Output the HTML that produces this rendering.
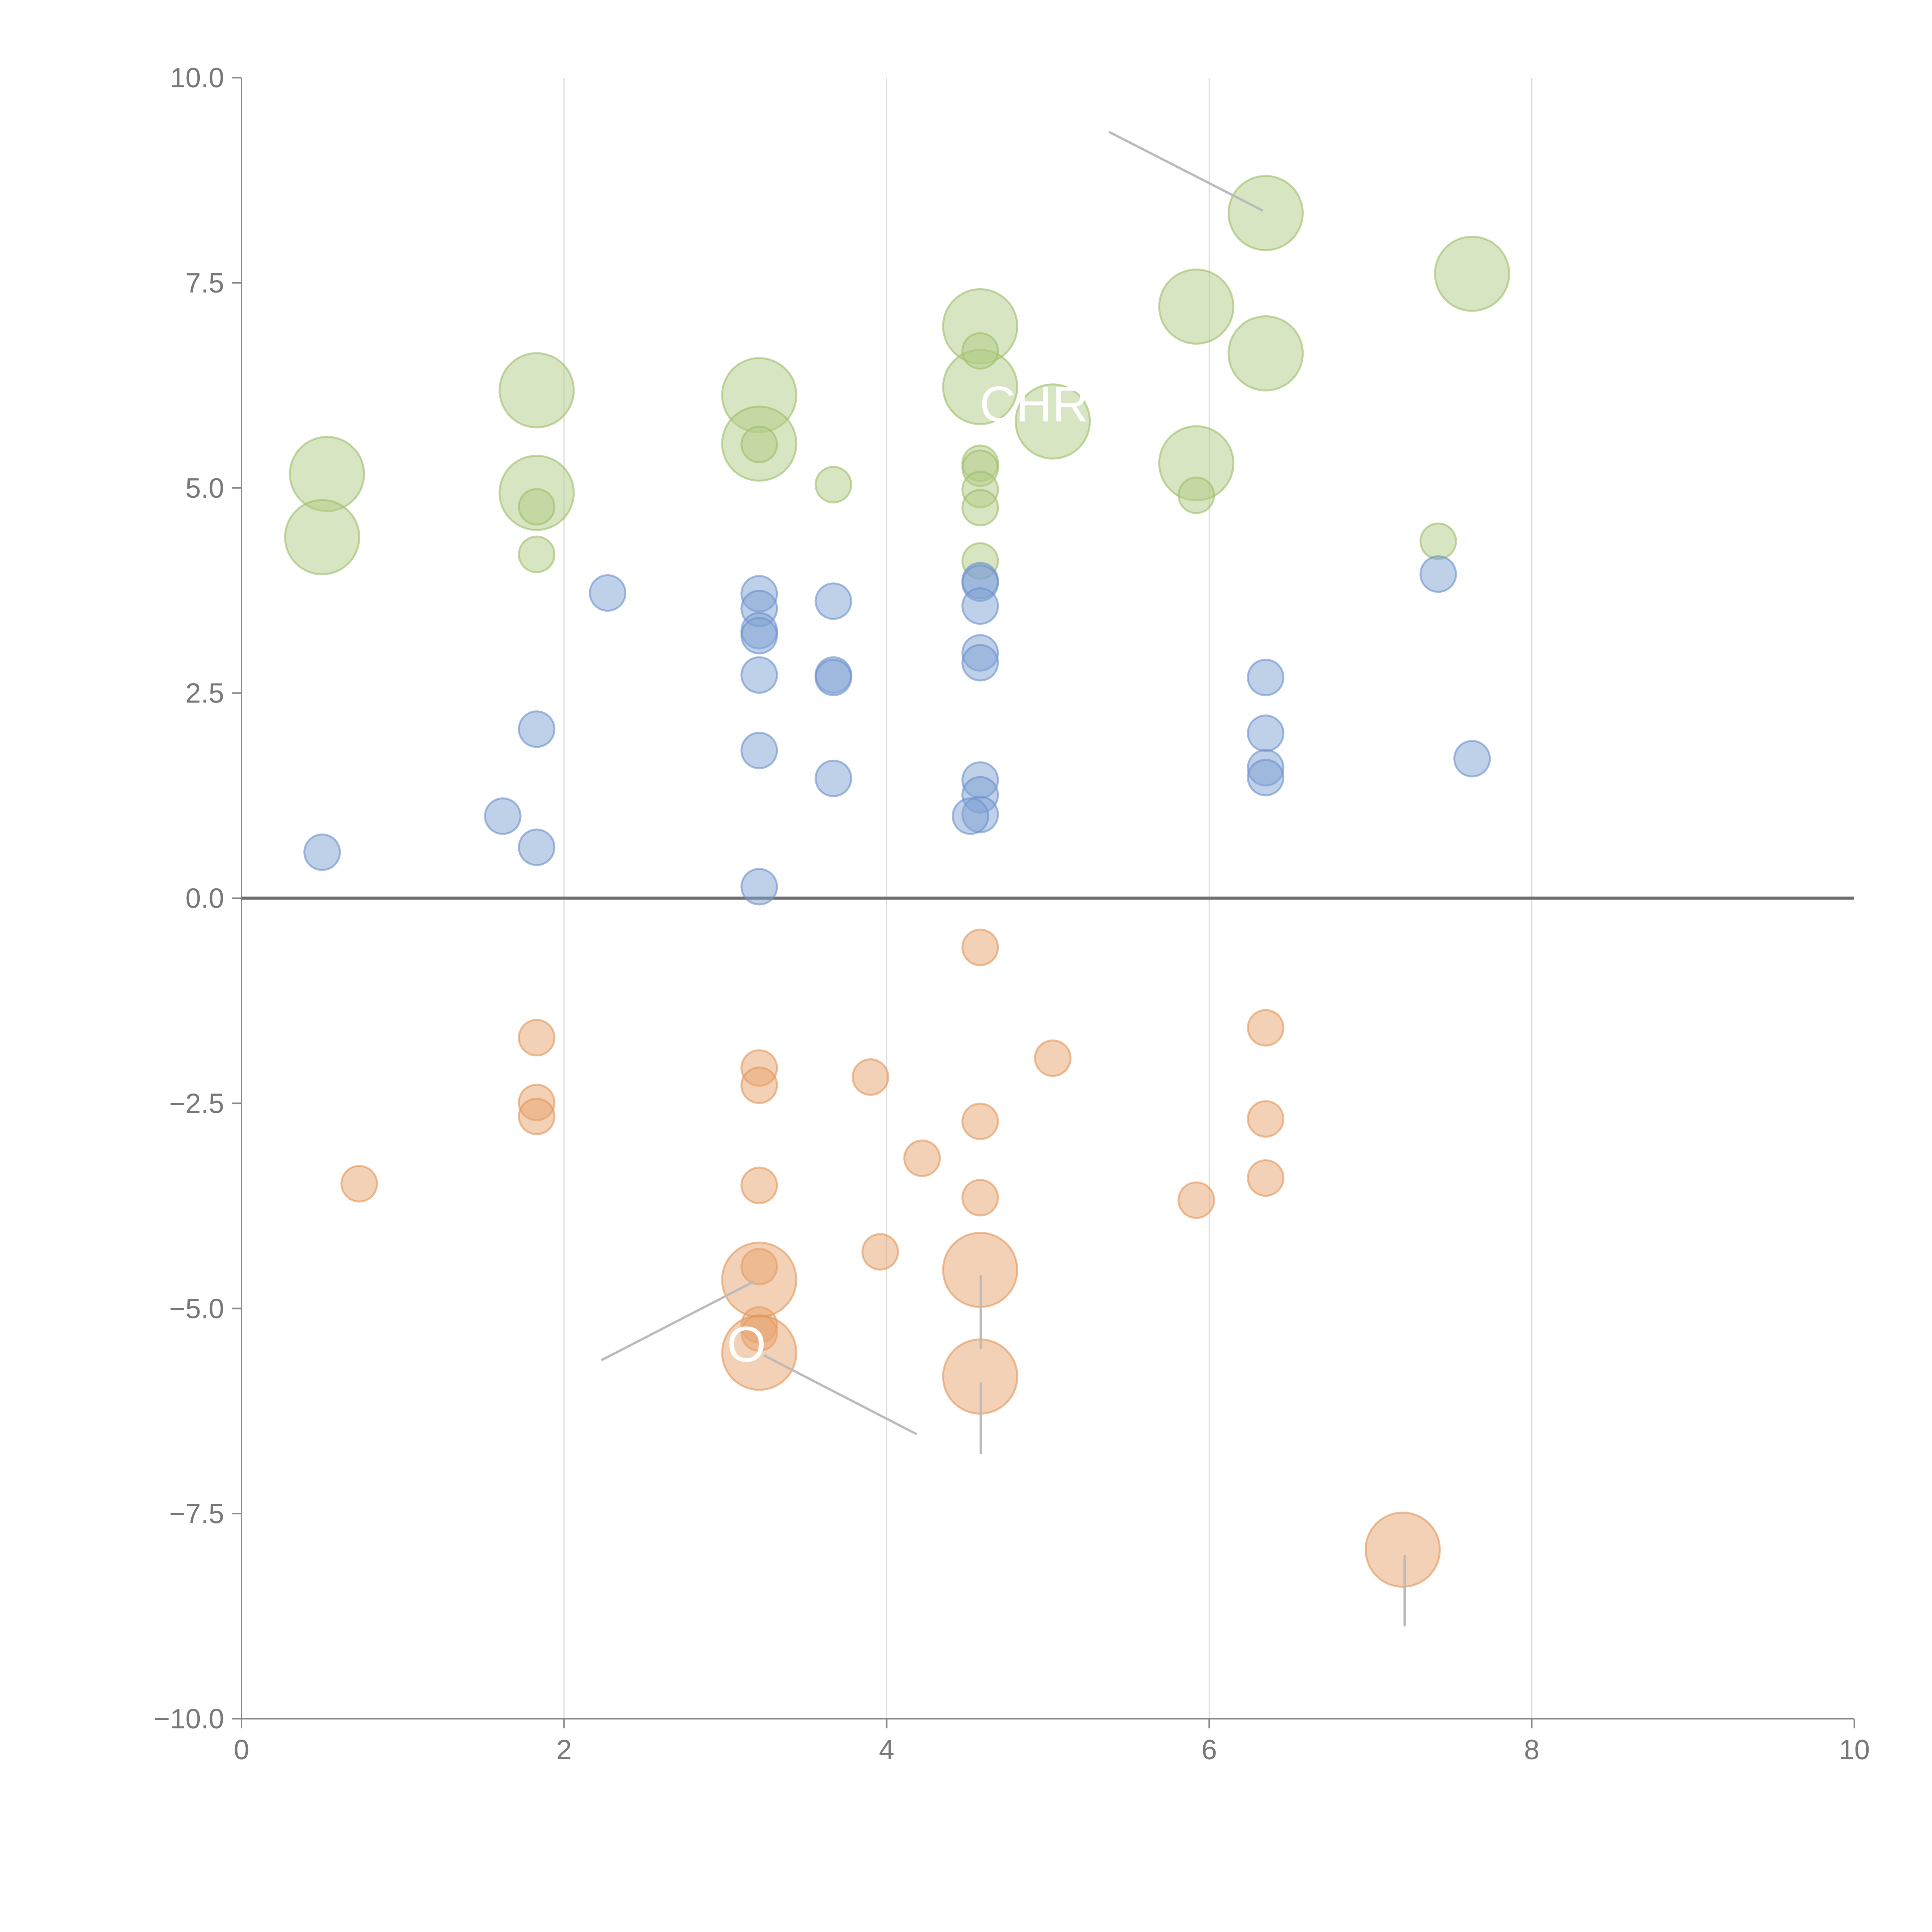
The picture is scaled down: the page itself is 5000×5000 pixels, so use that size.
<!DOCTYPE html>
<html><head><meta charset="utf-8"><style>
html,body{margin:0;padding:0;background:#fff;width:5000px;height:5000px;overflow:hidden}
svg{display:block}
svg text{font-family:"Liberation Sans",sans-serif}
</style></head><body>
<svg id="chart" width="5000" height="5000" xmlns="http://www.w3.org/2000/svg"></svg>
<script>
const xTicks=[0,2,4,6,8,10];
const yTicks=[10,7.5,5,2.5,0,-2.5,-5,-7.5,-10];
const yTickLabels=["10.0","7.5","5.0","2.5","0.0","−2.5","−5.0","−7.5","−10.0"];
const greenBigX=[0.53,0.5,1.83,1.83,3.21,3.21,4.58,4.58,5.03,5.92,5.92,6.35,6.35,7.63];
const greenBigY=[5.17,4.40,6.19,4.94,6.13,5.54,6.97,6.23,5.81,7.21,5.30,8.35,6.64,7.61];
const greenSmallX=[1.83,1.83,3.21,3.67,4.58,4.58,4.58,4.58,4.58,4.58,5.92,7.42];
const greenSmallY=[4.77,4.19,5.53,5.04,6.67,5.30,5.24,4.98,4.76,4.11,4.91,4.35];
const blueX=[0.5,1.62,1.83,1.83,2.27,3.21,3.21,3.21,3.21,3.21,3.21,3.21,3.67,3.67,3.67,3.67,4.58,4.58,4.58,4.58,4.58,4.58,4.58,4.58,4.52,6.35,6.35,6.35,6.35,7.42,7.63];
const blueY=[0.56,1.0,2.06,0.62,3.72,3.71,3.53,3.26,3.20,2.72,1.80,0.14,3.62,2.72,2.69,1.46,3.87,3.84,3.56,2.99,2.87,1.44,1.26,1.02,1.0,2.69,2.01,1.59,1.47,3.95,1.70];
const orangeSmallX=[0.73,1.83,1.83,1.83,3.21,3.21,3.21,3.21,3.21,3.21,3.90,3.96,4.22,4.58,4.58,4.58,5.03,5.92,6.35,6.35,6.35];
const orangeSmallY=[-3.48,-1.70,-2.49,-2.66,-2.07,-2.28,-3.50,-4.49,-5.20,-5.30,-2.18,-4.31,-3.17,-0.60,-2.72,-3.65,-1.95,-3.68,-1.58,-2.69,-3.41];
const orangeBigX=[3.21,3.21,4.58,4.58,7.20];
const orangeBigY=[-4.65,-5.54,-4.53,-5.83,-7.94];

const NS="http://www.w3.org/2000/svg";
const svg=document.getElementById('chart');
const X0=625,X1=4799,YT=201,YB=4448;
const sx=v=>X0+(v/10)*(X1-X0);
const sy=v=>YB-((v+10)/20)*(YB-YT);
function mk(t,a){const e=document.createElementNS(NS,t);for(const k in a)e.setAttribute(k,a[k]);svg.appendChild(e);return e;}

[2,4,6,8].forEach(v=>{
  const l=mk('line',{x1:sx(v),x2:sx(v),y1:YT,y2:YB,stroke:'#dcdcdc','stroke-width':3});
  
  
});
let a=mk('line',{x1:X0,x2:X0,y1:YT,y2:YB,stroke:'#888','stroke-width':4});


a=mk('line',{x1:X0,x2:X1,y1:YB,y2:YB,stroke:'#888','stroke-width':4});


xTicks.forEach(v=>{
  const t=mk('line',{x1:sx(v),x2:sx(v),y1:YB,y2:YB+25,stroke:'#888','stroke-width':4});
  
  
  const tx=mk('text',{x:sx(v),y:YB+105,'font-size':72,fill:'#777','text-anchor':'middle'});
  tx.textContent=String(v);
  
  
});
yTicks.forEach((v,i)=>{
  const t=mk('line',{x1:X0-25,x2:X0,y1:sy(v),y2:sy(v),stroke:'#888','stroke-width':4});
  
  
  const tx=mk('text',{x:X0-45,y:sy(v)+25,'font-size':72,fill:'#777','text-anchor':'end'});
  tx.textContent=yTickLabels[i];
  
  
});
a=mk('line',{x1:X0,x2:X1,y1:sy(0),y2:sy(0),stroke:'#6f6f6f','stroke-width':8});



function dots(xs,ys,r,fill,stroke,name){
  xs.forEach((x,i)=>{
    const c=mk('circle',{cx:sx(x),cy:sy(ys[i]),r:r,fill:fill,'fill-opacity':0.5,stroke:stroke,'stroke-opacity':0.6,'stroke-width':5});
    
    
  });
}
dots(greenBigX,greenBigY,96,'#b2cc85','#9dbd65','green-bubble-large');
dots(greenSmallX,greenSmallY,46,'#b2cc85','#9dbd65','green-bubble-small');
dots(blueX,blueY,46,'#7fa1d4','#6a8fcb','blue-bubble');
dots(orangeSmallX,orangeSmallY,46,'#e8a46e','#e39456','orange-bubble-small');
dots(orangeBigX,orangeBigY,96,'#e8a46e','#e39456','orange-bubble-large');

const S=5000/1568;
[[900,107,1025,171],[488,1104,612,1040],[620,1100,744,1164],[796,1035,796,1095],[796,1122,796,1180],[1140,1262,1140,1320]].forEach(p=>{
  const l=mk('line',{x1:p[0]*S,y1:p[1]*S,x2:p[2]*S,y2:p[3]*S,stroke:'#bbb','stroke-width':6});
  
  
});
[["CHR",795,342],["O",590,1105]].forEach(p=>{
  const t=mk('text',{x:p[1]*S,y:p[2]*S,'font-size':130,fill:'#fff'});
  t.textContent=p[0];
  
  
});
</script>
</body></html>
